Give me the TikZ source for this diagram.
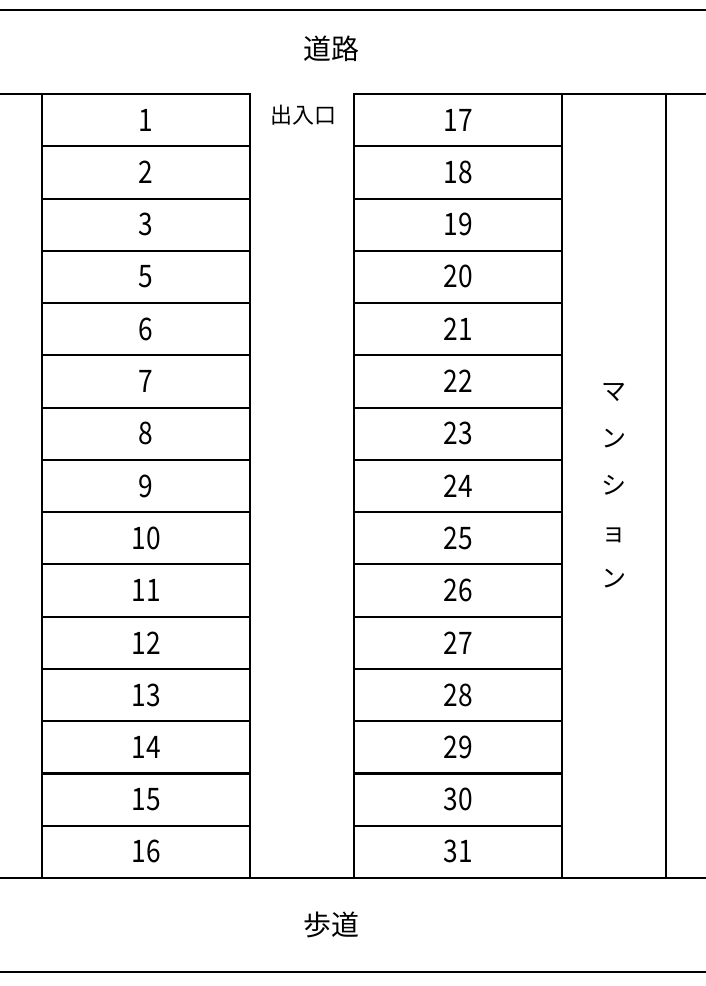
\documentclass[tikz,border=0pt]{standalone}
\usepackage{fontspec}
\setmainfont{Noto Sans CJK JP}
\newfontfamily\numfont[FakeStretch=0.85]{Noto Sans CJK JP}
\usepackage{tikz}
\tikzstyle{simple}=[-,draw=black,line width=2.000]
\pgfdeclarelayer{edgelayer}
\pgfdeclarelayer{nodelayer}
\pgfsetlayers{edgelayer,nodelayer,main}
\tikzstyle{stall}=[rectangle,draw=black,line width=2.000,inner sep=0pt,minimum width=208pt,minimum height=52.27pt,font=\numfont\fontsize{31}{31}\selectfont]
\tikzstyle{building}=[rectangle,draw=black,line width=2.000,inner sep=0pt,minimum width=104pt,minimum height=784pt,align=center,font=\fontsize{25}{46.75}\selectfont]
\tikzstyle{road}=[inner sep=0pt,font=\fontsize{28}{28}\selectfont]
\tikzstyle{gate}=[inner sep=0pt,font=\fontsize{22}{22}\selectfont]

\begin{document}
\begin{tikzpicture}[x=1pt,y=-1pt]
	\useasboundingbox (0, 0) rectangle (706, 986);
	\begin{pgfonlayer}{nodelayer}
		\node [style=road] (road) at (331, 49) {道路};
		\node [style=road] (walk) at (331, 925) {歩道};
		\node [style=gate] (gate) at (303, 115) {出入口};

		\node [style=stall] (p1) at (146, 120.1) {1};
		\node [style=stall] (p2) at (146, 172.4) {2};
		\node [style=stall] (p3) at (146, 224.7) {3};
		\node [style=stall] (p5) at (146, 276.9) {5};
		\node [style=stall] (p6) at (146, 329.2) {6};
		\node [style=stall] (p7) at (146, 381.5) {7};
		\node [style=stall] (p8) at (146, 433.7) {8};
		\node [style=stall] (p9) at (146, 486.0) {9};
		\node [style=stall] (p10) at (146, 538.3) {10};
		\node [style=stall] (p11) at (146, 590.5) {11};
		\node [style=stall] (p12) at (146, 642.8) {12};
		\node [style=stall] (p13) at (146, 695.1) {13};
		\node [style=stall] (p14) at (146, 747.4) {14};
		\node [style=stall] (p15) at (146, 799.6) {15};
		\node [style=stall] (p16) at (146, 851.9) {16};

		\node [style=stall] (p17) at (458, 120.1) {17};
		\node [style=stall] (p18) at (458, 172.4) {18};
		\node [style=stall] (p19) at (458, 224.7) {19};
		\node [style=stall] (p20) at (458, 276.9) {20};
		\node [style=stall] (p21) at (458, 329.2) {21};
		\node [style=stall] (p22) at (458, 381.5) {22};
		\node [style=stall] (p23) at (458, 433.7) {23};
		\node [style=stall] (p24) at (458, 486.0) {24};
		\node [style=stall] (p25) at (458, 538.3) {25};
		\node [style=stall] (p26) at (458, 590.5) {26};
		\node [style=stall] (p27) at (458, 642.8) {27};
		\node [style=stall] (p28) at (458, 695.1) {28};
		\node [style=stall] (p29) at (458, 747.4) {29};
		\node [style=stall] (p30) at (458, 799.6) {30};
		\node [style=stall] (p31) at (458, 851.9) {31};

		\node [style=building] (mansion) at (614, 486) {マ\\ン\\シ\\ョ\\ン};
	\end{pgfonlayer}
	\begin{pgfonlayer}{edgelayer}
		\draw [style=simple] (0, 10) to (706, 10);
		\draw [style=simple] (0, 94) to (42, 94);
		\draw [style=simple] (666, 94) to (706, 94);
		\draw [style=simple] (0, 878) to (706, 878);
		\draw [style=simple] (0, 972) to (706, 972);
	\end{pgfonlayer}
\end{tikzpicture}
\end{document}
